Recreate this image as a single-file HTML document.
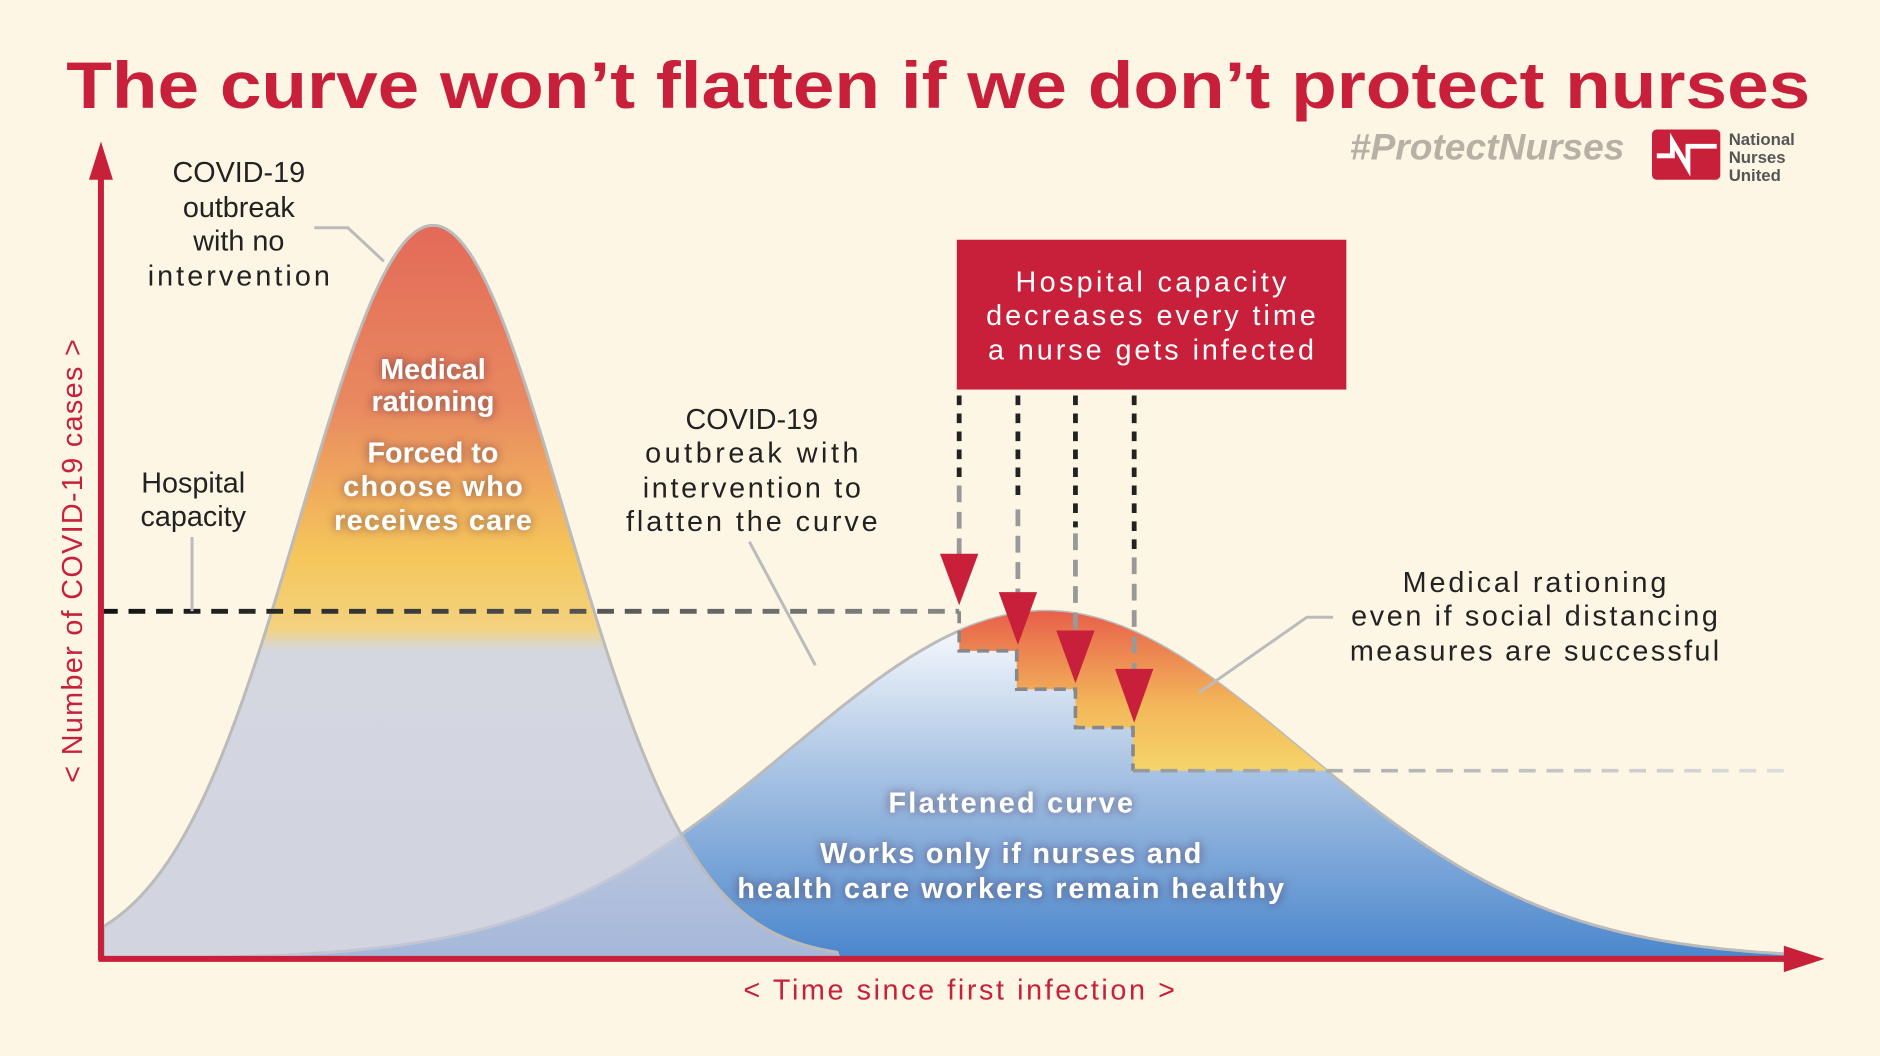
<!DOCTYPE html>
<html><head><meta charset="utf-8"><style>
html,body{margin:0;padding:0;background:#fdf6e4;}
svg{display:block;}
text{font-family:"Liberation Sans",sans-serif;}
</style></head><body>
<svg id="s" width="1880" height="1056" viewBox="0 0 1568 881" xmlns="http://www.w3.org/2000/svg">
<defs>
<linearGradient id="tall" x1="0" y1="188" x2="0" y2="800" gradientUnits="userSpaceOnUse">
<stop offset="0" stop-color="#e36a58" stop-opacity="1"/>
<stop offset="0.25" stop-color="#e98a60" stop-opacity="1"/>
<stop offset="0.45" stop-color="#f5c65a" stop-opacity="1"/>
<stop offset="0.55" stop-color="#f3d07a" stop-opacity="0.95"/>
<stop offset="0.58" stop-color="#cdd2df" stop-opacity="0.85"/>
<stop offset="1" stop-color="#c3c8de" stop-opacity="0.75"/>
</linearGradient>
<linearGradient id="flat" x1="0" y1="510" x2="0" y2="800" gradientUnits="userSpaceOnUse">
<stop offset="0" stop-color="#ffffff"/>
<stop offset="0.45" stop-color="#aac4e4"/>
<stop offset="1" stop-color="#4a86cc"/>
</linearGradient>
<linearGradient id="red" x1="0" y1="510" x2="0" y2="643" gradientUnits="userSpaceOnUse">
<stop offset="0" stop-color="#e8604a"/>
<stop offset="0.6" stop-color="#f3b85a"/>
<stop offset="1" stop-color="#f6d469"/>
</linearGradient>
<linearGradient id="cap" x1="84" y1="0" x2="800" y2="0" gradientUnits="userSpaceOnUse">
<stop offset="0" stop-color="#111"/><stop offset="1" stop-color="#888"/>
</linearGradient>
<linearGradient id="cap2" x1="945" y1="0" x2="1490" y2="0" gradientUnits="userSpaceOnUse">
<stop offset="0" stop-color="#999"/><stop offset="1" stop-color="#ddd"/>
</linearGradient>
<clipPath id="redclip"><path d="M800 300 L800 543 L848 543 L848 575 L897 575 L897 607 L945 607 L945 643 L1300 643 L1300 300 Z"/></clipPath>
<filter id="sh"><feDropShadow dx="0" dy="0" stdDeviation="4" flood-color="#402030" flood-opacity="0.6"/></filter>
</defs>
<rect width="1568" height="881" fill="#fdf6e4"/>
<text x="55" y="90" font-size="55" font-weight="bold" fill="#c8203a" textLength="1455" lengthAdjust="spacingAndGlyphs">The curve won’t flatten if we don’t protect nurses</text>
<text x="1355" y="133" text-anchor="end" font-size="31" font-style="italic" font-weight="bold" fill="#b8b0a4">#ProtectNurses</text>
<rect x="1378" y="108" width="57" height="42" rx="4" fill="#c8203a"/>
<path d="M1382 130 L1395 130 L1395 118 L1408 140 L1408 122 L1432 122" stroke="#fff" stroke-width="4" fill="none"/>
<text x="1442" y="121" font-size="14" font-weight="bold" fill="#555">National</text>
<text x="1442" y="136" font-size="14" font-weight="bold" fill="#555">Nurses</text>
<text x="1442" y="151" font-size="14" font-weight="bold" fill="#555">United</text>
<path id="flatp" fill="url(#flat)" stroke="#bbb" stroke-width="2.5"/>
<path id="flatr" fill="url(#red)" clip-path="url(#redclip)"/>
<path id="tallp" fill="url(#tall)" stroke="#bbb" stroke-width="2.5"/>
<line x1="84" y1="510" x2="800" y2="510" stroke="url(#cap)" stroke-width="4" stroke-dasharray="14 9"/>
<path d="M800 510 L800 543 L848 543 L848 575 L897 575 L897 607 L945 607 L945 643" stroke="#888" stroke-width="3" fill="none" stroke-dasharray="10 6"/>
<line x1="945" y1="643" x2="1490" y2="643" stroke="url(#cap2)" stroke-width="3" stroke-dasharray="14 9"/>
<g stroke-width="4" fill="none">
<line x1="800" y1="330" x2="800" y2="400" stroke="#222" stroke-dasharray="8 7"/><line x1="800" y1="405" x2="800" y2="470" stroke="#999" stroke-dasharray="14 8"/>
<line x1="849" y1="330" x2="849" y2="420" stroke="#222" stroke-dasharray="8 7"/><line x1="849" y1="425" x2="849" y2="500" stroke="#999" stroke-dasharray="14 8"/>
<line x1="897" y1="330" x2="897" y2="440" stroke="#222" stroke-dasharray="8 7"/><line x1="897" y1="445" x2="897" y2="530" stroke="#999" stroke-dasharray="14 8"/>
<line x1="946" y1="330" x2="946" y2="460" stroke="#222" stroke-dasharray="8 7"/><line x1="946" y1="465" x2="946" y2="562" stroke="#999" stroke-dasharray="14 8"/>
</g>
<g fill="#c8203a">
<path d="M784 462 L816 462 L800 505 Z"/>
<path d="M833 494 L865 494 L849 538 Z"/>
<path d="M881 526 L913 526 L897 570 Z"/>
<path d="M930 558 L962 558 L946 603 Z"/>
</g>
<rect x="798" y="200" width="325" height="125" fill="#c8203a"/>
<g fill="#fff" font-size="24" text-anchor="middle">
<text x="960" y="243" textLength="226">Hospital capacity</text>
<text x="960" y="271" textLength="275">decreases every time</text>
<text x="960" y="300" textLength="272">a nurse gets infected</text>
</g>
<g stroke="#bbb" stroke-width="2.5" fill="none">
<path d="M262 190 L290 190 L320 218"/>
<path d="M160 448 L160 510"/>
<path d="M625 452 L680 555"/>
<path d="M1112 515 L1090 515 L1000 578"/>
</g>
<g fill="#222" font-size="24" text-anchor="middle">
<text x="199" y="152">COVID-19</text><text x="199" y="181">outbreak</text><text x="199" y="209">with no</text><text x="199" y="238" textLength="152">intervention</text>
<text x="161" y="411">Hospital</text><text x="161" y="439">capacity</text>
<text x="627" y="358">COVID-19</text><text x="627" y="386" textLength="178">outbreak with</text><text x="627" y="415" textLength="182">intervention to</text><text x="627" y="443" textLength="210">flatten the curve</text>
<text x="1280" y="494" textLength="220">Medical rationing</text><text x="1280" y="522" textLength="306">even if social distancing</text><text x="1280" y="551" textLength="308">measures are successful</text>
</g>
<g fill="#fff" font-size="24" font-weight="bold" text-anchor="middle" filter="url(#sh)">
<text x="361" y="316">Medical</text><text x="361" y="343">rationing</text>
<text x="361" y="386">Forced to</text><text x="361" y="414" textLength="150">choose who</text><text x="361" y="442" textLength="165">receives care</text>
<text x="843" y="678" textLength="204">Flattened curve</text>
<text x="843" y="720" textLength="318">Works only if nurses and</text><text x="843" y="749" textLength="456">health care workers remain healthy</text>
</g>
<g stroke="#c8203a" stroke-width="5" fill="#c8203a">
<line x1="84" y1="801" x2="84" y2="140"/>
<line x1="82" y1="800" x2="1495" y2="800"/>
<path d="M74 150 L84 118 L94 150 Z" stroke="none"/>
<path d="M1488 789 L1522 800 L1488 811 Z" stroke="none"/>
</g>
<text x="800" y="834" text-anchor="middle" font-size="24" fill="#c8203a" textLength="360">&lt; Time since first infection &gt;</text>
<text transform="translate(68 468) rotate(-90)" text-anchor="middle" font-size="24" fill="#c8203a" textLength="370">&lt; Number of COVID-19 cases &gt;</text>
</svg>
<script>
function g(c,s,h,x0,x1){var d="M"+x0+" 800";for(var x=x0;x<=x1;x+=3){var y=800-h*Math.exp(-(x-c)*(x-c)/(2*s*s));d+=" L"+x+" "+y.toFixed(1);}return d+" L"+x1+" 800 Z";}
var f=g(872,212,290,86,1495);
document.getElementById("flatp").setAttribute("d",f);
document.getElementById("flatr").setAttribute("d",f);
document.getElementById("tallp").setAttribute("d",g(361,110,612,86,700));
</script>
</body></html>
